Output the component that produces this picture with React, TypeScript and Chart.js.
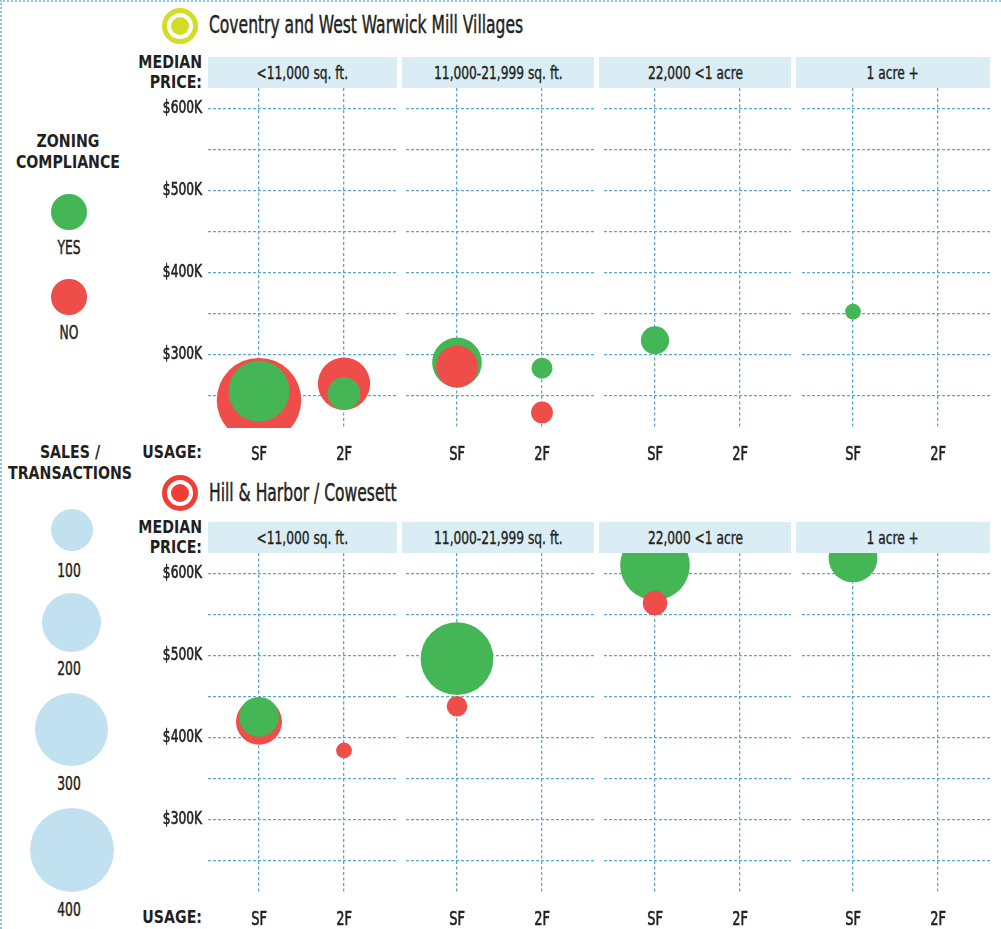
import React, { useEffect, useRef } from "react";
import { Chart, registerables } from "chart.js";

Chart.register(...registerables);

// ---------------- data ----------------
const regionNames = ["Coventry and West Warwick Mill Villages", "Hill & Harbor / Cowesett"];
const lotSizes = ["<11,000 sq. ft.", "11,000-21,999 sq. ft.", "22,000 <1 acre", "1 acre +"];
const usageLabels = ["SF", "2F"];
const priceGrid = [250, 300, 350, 400, 450, 500, 550, 600];
const priceTickValues = [300, 400, 500, 600];
const priceTickLabels = ["$300K", "$400K", "$500K", "$600K"];
const legendSales = [100, 200, 300, 400];

// one row per lot size: [SF, 2F]; median price in $K, sales = transactions
const coventryYesPrice = [[255, 252], [290, 283], [317, null], [352, null]];
const coventryYesSales = [[210, 60], [140, 25], [45, null], [14, null]];
const coventryNoPrice = [[244, 264], [285, 229], [null, null], [null, null]];
const coventryNoSales = [[405, 155], [100, 27], [null, null], [null, null]];

const hillYesPrice = [[425, null], [496, null], [610, null], [619, null]];
const hillYesSales = [[90, null], [300, null], [275, null], [135, null]];
const hillNoPrice = [[419, 384], [438, null], [564, null], [null, null]];
const hillNoSales = [[120, 14], [24, null], [34, null], [null, null]];

// ---------------- style / layout ----------------
const GREEN = "#45b656";
const RED = "#ef4d49";
const GRID = "#5aa8d2";
const HEADER_BG = "#daedf5";
const LEGEND_BLUE = "#c1e1f0";
const TEXT = "#231f20";
const YELLOW = "#d3dd27";
const ICON_RED = "#ee3e37";
const FONT_C = "'DejaVu Sans Condensed', 'DejaVu Sans', sans-serif";
const REG_SCALE = 0.72;
const BOLD_SCALE = 0.875;
const REG_STROKE = "0.45px " + TEXT;

const panelLeft = [208, 406, 604, 802];
const panelWidth = [189, 188, 187, 188];
const headerLeft = [208, 402, 599, 796];
const headerWidth = [189, 192, 192, 194];
const rowPlotTop = [88, 553];
const rowHeaderTop = [57, 522];
const rowTitleY = [25.5, 493];
const rowIconColor = [YELLOW, ICON_RED];
const PLOT_H = 340;
const HEADER_H = 31;
const AXIS_W = 68;
const TOP_PAD = 24;
const X_AXIS_H = 44;
const PX_PER_USAGE = 85;
const FIRST_USAGE_OFFSET = 51;
const Y_MIN = 210;
const Y_MAX = 625;

const radiusFor = (sales: number) => 2.1 * Math.sqrt(sales);

type Cell = (number | null)[];

function toPoints(price: Cell, sales: Cell) {
  const pts: { x: number; y: number; r: number }[] = [];
  price.forEach((p, i) => {
    const s = sales[i];
    if (p != null && s != null) pts.push({ x: i, y: p, r: radiusFor(s) });
  });
  return pts;
}

function drawCondensed(
  ctx: CanvasRenderingContext2D,
  text: string,
  x: number,
  y: number,
  align: CanvasTextAlign,
  size: number,
  sx: number
) {
  ctx.save();
  ctx.translate(x, y);
  ctx.scale(sx, 1);
  ctx.font = `${size}px ${FONT_C}`;
  ctx.fillStyle = TEXT;
  ctx.strokeStyle = TEXT;
  ctx.lineWidth = 0.6;
  ctx.textAlign = align;
  ctx.textBaseline = "middle";
  ctx.fillText(text, 0, 0);
  ctx.strokeText(text, 0, 0);
  ctx.restore();
}

function BubblePanel(props: {
  left: number;
  top: number;
  width: number;
  showAxis: boolean;
  yesPrice: Cell;
  yesSales: Cell;
  noPrice: Cell;
  noSales: Cell;
}) {
  const ref = useRef<HTMLCanvasElement>(null);
  const axisW = props.showAxis ? AXIS_W : 0;
  const cw = props.width + axisW;
  const ch = TOP_PAD + PLOT_H + X_AXIS_H;
  useEffect(() => {
    if (!ref.current) return;
    const yesPts = toPoints(props.yesPrice, props.yesSales);
    const noPts = toPoints(props.noPrice, props.noSales);
    const ySF = props.yesSales[0] ?? 0;
    const nSF = props.noSales[0] ?? 0;
    const yesOnTop = ySF <= nSF;
    const showAxis = props.showAxis;

    // tick labels drawn from the library's own scales, horizontally condensed
    const condensedTicks = {
      id: "condensedTicks",
      afterDraw(chart: any) {
        const ctx = chart.ctx as CanvasRenderingContext2D;
        const area = chart.chartArea;
        const ys = chart.scales.y;
        const xs = chart.scales.x;
        if (showAxis) {
          ys.ticks.forEach((t: any) => {
            const i = priceTickValues.indexOf(t.value);
            if (i < 0) return;
            drawCondensed(ctx, priceTickLabels[i], area.left - 6, ys.getPixelForValue(t.value), "right", 17, 0.8);
          });
        }
        xs.ticks.forEach((t: any) => {
          const lbl = usageLabels[Math.round(t.value)];
          if (!lbl) return;
          drawCondensed(ctx, lbl, xs.getPixelForValue(t.value), area.bottom + 27.2, "center", 19, 0.76);
        });
      },
    };

    const chart = new Chart(ref.current, {
      type: "bubble",
      data: {
        datasets: [
          {
            label: "YES",
            data: yesPts,
            backgroundColor: GREEN,
            borderWidth: 0,
            hoverBorderWidth: 0,
            clip: 0,
            order: yesOnTop ? 0 : 1,
          } as any,
          {
            label: "NO",
            data: noPts,
            backgroundColor: RED,
            borderWidth: 0,
            hoverBorderWidth: 0,
            clip: 0,
            order: yesOnTop ? 1 : 0,
          } as any,
        ],
      },
      options: {
        responsive: false,
        animation: false,
        events: [],
        layout: { autoPadding: false, padding: { top: TOP_PAD, left: 0, right: 0, bottom: 0 } },
        plugins: { legend: { display: false }, tooltip: { enabled: false } },
        scales: {
          x: {
            type: "linear",
            min: -FIRST_USAGE_OFFSET / PX_PER_USAGE,
            max: (props.width - FIRST_USAGE_OFFSET) / PX_PER_USAGE,
            afterBuildTicks: (s: any) => {
              s.ticks = usageLabels.map((_, i) => ({ value: i }));
            },
            afterFit: (s: any) => {
              s.height = X_AXIS_H;
            },
            ticks: { display: false },
            grid: { color: GRID, lineWidth: 1.3, drawTicks: false },
            border: { display: false, dash: [3, 2.5] },
          },
          y: {
            type: "linear",
            min: Y_MIN,
            max: Y_MAX,
            afterBuildTicks: (s: any) => {
              s.ticks = priceGrid.map((v) => ({ value: v }));
            },
            afterFit: (s: any) => {
              s.width = axisW;
            },
            ticks: { display: false },
            grid: { color: GRID, lineWidth: 1.3, drawTicks: false },
            border: { display: false, dash: [3, 2] },
          },
        },
      } as any,
      plugins: [condensedTicks as any],
    });
    return () => chart.destroy();
  }, []);
  return (
    <canvas
      ref={ref}
      width={cw}
      height={ch}
      style={{
        position: "absolute",
        left: props.left - axisW,
        top: props.top - TOP_PAD,
        width: cw,
        height: ch,
      }}
    />
  );
}

function Label(props: {
  x: number;
  y: number;
  text: string;
  align?: "center" | "right" | "left";
  size?: number;
  bold?: boolean;
  scaleX?: number;
}) {
  const size = props.size ?? 19;
  const lh = Math.round(size * 1.3);
  const align = props.align ?? "center";
  const W = 500;
  const left = align === "center" ? props.x - W / 2 : align === "right" ? props.x - W : props.x;
  const origin = align === "center" ? "center" : align === "right" ? "right" : "left";
  const sx = props.scaleX ?? (props.bold ? BOLD_SCALE : REG_SCALE);
  return (
    <div
      style={{
        position: "absolute",
        left,
        top: props.y - lh / 2,
        width: W,
        height: lh,
        lineHeight: lh + "px",
        textAlign: align,
        fontFamily: FONT_C,
        fontSize: size,
        fontWeight: props.bold ? 700 : 400,
        color: TEXT,
        whiteSpace: "nowrap",
        transform: `scaleX(${sx})`,
        transformOrigin: origin,
        WebkitTextStroke: props.bold ? undefined : REG_STROKE,
      }}
    >
      {props.text}
    </div>
  );
}

function Dot(props: { cx: number; cy: number; d: number; color: string }) {
  return (
    <div
      style={{
        position: "absolute",
        left: props.cx - props.d / 2,
        top: props.cy - props.d / 2,
        width: props.d,
        height: props.d,
        borderRadius: "50%",
        background: props.color,
      }}
    />
  );
}

function Icon(props: { cx: number; cy: number; color: string }) {
  return (
    <div
      style={{
        position: "absolute",
        left: props.cx - 18,
        top: props.cy - 18,
        width: 36,
        height: 36,
        borderRadius: "50%",
        boxSizing: "border-box",
        border: `5px solid ${props.color}`,
        background: "#fff",
      }}
    >
      <div
        style={{
          position: "absolute",
          left: 4,
          top: 4,
          width: 18,
          height: 18,
          borderRadius: "50%",
          background: props.color,
        }}
      />
    </div>
  );
}

const rowData = [
  { yesPrice: coventryYesPrice, yesSales: coventryYesSales, noPrice: coventryNoPrice, noSales: coventryNoSales },
  { yesPrice: hillYesPrice, yesSales: hillYesSales, noPrice: hillNoPrice, noSales: hillNoSales },
];

const legendCircleY = [530, 622.8, 729.2, 850];
const legendLabelY = [570.3, 668.8, 783.8, 909.7];

export default function App() {
  return (
    <div
      style={{
        position: "absolute",
        left: 0,
        top: 0,
        width: 1001,
        height: 929,
        background: "#fff",
        overflow: "hidden",
      }}
    >
      {/* dotted frame */}
      <div style={{ position: "absolute", left: 0, top: 0, width: 1001, height: 0, borderTop: "2px dotted #8cc6e3" }} />
      <div style={{ position: "absolute", left: 0, top: 0, width: 0, height: 929, borderLeft: "2px dotted #8cc6e3" }} />

      {/* left legend */}
      <Label x={67.7} y={140.8} text="ZONING" bold size={18} />
      <Label x={67.7} y={161.7} text="COMPLIANCE" bold size={18} />
      <Dot cx={68.8} cy={211.8} d={35.5} color={GREEN} />
      <Label x={68.7} y={247.8} text="YES" />
      <Dot cx={68.8} cy={296.8} d={35.5} color={RED} />
      <Label x={68.7} y={332.5} text="NO" />
      <Label x={70} y={451.7} text="SALES /" bold size={18} />
      <Label x={69.5} y={472.7} text="TRANSACTIONS" bold size={18} />
      {legendSales.map((n, i) => (
        <React.Fragment key={n}>
          <Dot cx={71.7} cy={legendCircleY[i]} d={2 * radiusFor(n)} color={LEGEND_BLUE} />
          <Label x={68.8} y={legendLabelY[i]} text={String(n)} />
        </React.Fragment>
      ))}

      {rowData.map((rd, r) => (
        <React.Fragment key={r}>
          <Icon cx={180.3} cy={rowTitleY[r]} color={rowIconColor[r]} />
          <Label x={209} y={rowTitleY[r]} text={regionNames[r]} align="left" size={24} scaleX={0.72} />
          <Label x={202} y={rowHeaderTop[r] + 4.5} text="MEDIAN" align="right" bold size={18} />
          <Label x={202} y={rowHeaderTop[r] + 24.5} text="PRICE:" align="right" bold size={18} />
          <Label x={202} y={rowPlotTop[r] + PLOT_H + 23.5} text="USAGE:" align="right" bold size={18} />
          {lotSizes.map((ls, i) => (
            <div
              key={ls}
              style={{
                position: "absolute",
                left: headerLeft[i],
                top: rowHeaderTop[r],
                width: headerWidth[i],
                height: HEADER_H,
                background: HEADER_BG,
                display: "flex",
                alignItems: "center",
                justifyContent: "center",
                fontFamily: FONT_C,
                fontSize: 17,
                color: TEXT,
                whiteSpace: "nowrap",
              }}
            >
              <span
                style={{
                  display: "inline-block",
                  transform: "scaleX(0.8)",
                  transformOrigin: "center",
                  WebkitTextStroke: "0.35px " + TEXT,
                }}
              >
                {ls}
              </span>
            </div>
          ))}
          {lotSizes.map((ls, i) => (
            <BubblePanel
              key={"c" + ls}
              left={panelLeft[i]}
              top={rowPlotTop[r]}
              width={panelWidth[i]}
              showAxis={i === 0}
              yesPrice={rd.yesPrice[i]}
              yesSales={rd.yesSales[i]}
              noPrice={rd.noPrice[i]}
              noSales={rd.noSales[i]}
            />
          ))}
        </React.Fragment>
      ))}
    </div>
  );
}
